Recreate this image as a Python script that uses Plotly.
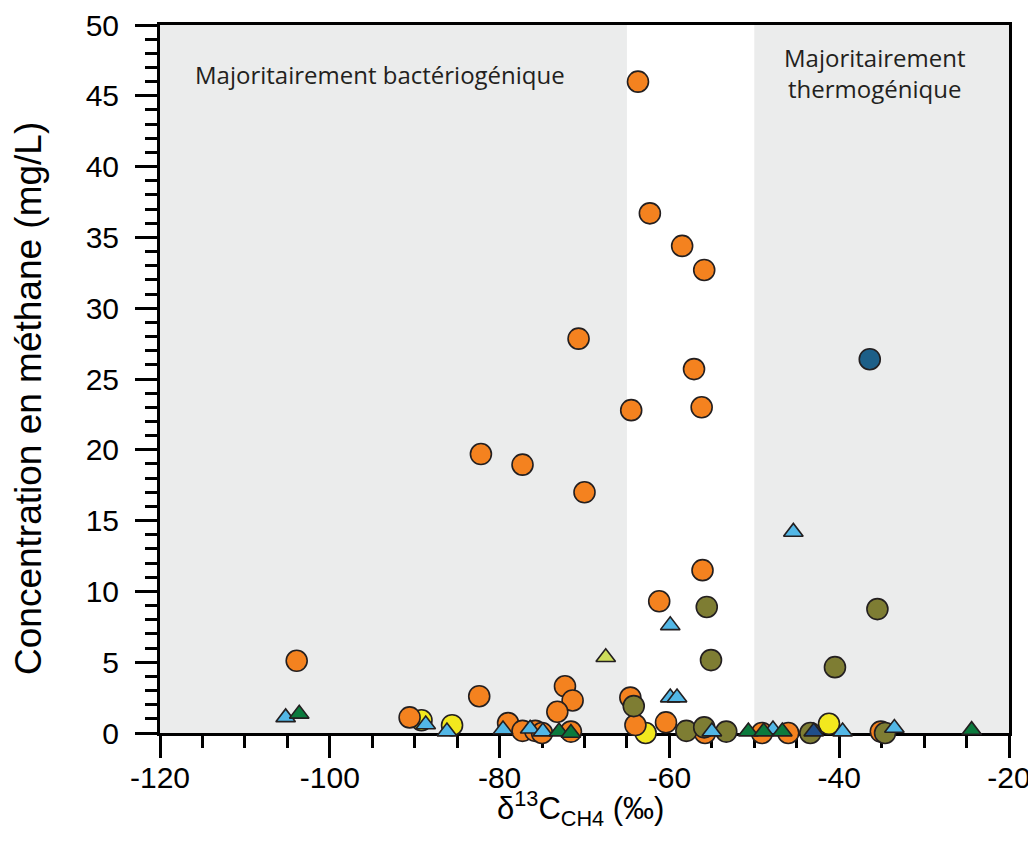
import plotly.graph_objects as go

# ---- data ----
orange_x = [-63.7, -62.3, -58.5, -55.9, -70.7, -57.1, -64.5, -56.2, -82.2, -77.3, -70.0,
            -56.1, -61.2, -103.9, -82.4, -72.3, -71.4, -73.2, -64.6, -64.0, -60.4, -90.6,
            -79.0, -77.3, -75.8, -75.0, -71.6, -55.8, -49.1, -46.0, -35.1]
orange_y = [46.0, 36.7, 34.4, 32.7, 27.85, 25.7, 22.8, 23.0, 19.7, 18.95, 17.0,
            11.5, 9.3, 5.1, 2.6, 3.3, 2.3, 1.5, 2.5, 0.56, 0.75, 1.1,
            0.7, 0.15, 0.15, 0.0, 0.1, 0.0, 0.0, 0.0, 0.1]

olive_x = [-55.6, -35.5, -55.1, -40.5, -64.2, -58.0, -55.9, -53.3, -43.4, -34.6]
olive_y = [8.9, 8.75, 5.15, 4.65, 1.9, 0.15, 0.4, 0.1, 0.0, 0.0]

yellow_x = [-89.2, -85.6, -62.8, -41.2]
yellow_y = [0.9, 0.55, 0.0, 0.65]

darkblue_x = [-36.4]
darkblue_y = [26.4]

yellowgreen_x = [-67.5]
yellowgreen_y = [5.35]

lightblue_x = [-45.4, -59.9, -59.9, -59.1, -105.2, -88.7, -86.2, -79.6, -76.4, -74.9,
               -55.0, -47.8, -39.6, -33.5]
lightblue_y = [14.2, 7.6, 2.5, 2.5, 1.1, 0.6, 0.1, 0.25, 0.3, 0.1,
               0.1, 0.25, 0.1, 0.35]

green_x = [-103.6, -73.0, -71.6, -50.7, -48.9, -46.7, -24.4]
green_y = [1.35, 0.1, 0.0, 0.1, 0.1, 0.1, 0.2]

navy_x = [-43.0]
navy_y = [0.1]

bacterial_zone = [-120, -65]
thermogenic_zone = [-50, -20]

x_range = [-120, -20]
y_range = [0, 50]
x_tickvals = [-120, -100, -80, -60, -40, -20]
x_ticktext = ["-120", "-100", "-80", "-60", "-40", "-20"]

# ---- figure ----
OUT = "#231F20"
CIRCLE = 21
TRI = 17

def circ(x, y, color):
    return go.Scatter(x=x, y=y, mode="markers", cliponaxis=False, showlegend=False,
                      marker=dict(symbol="circle", size=CIRCLE, color=color,
                                  line=dict(color=OUT, width=1.6)))

def tri(x, y, color):
    return go.Scatter(x=x, y=y, mode="markers", cliponaxis=False, showlegend=False,
                      marker=dict(symbol="triangle-up", size=TRI, color=color,
                                  line=dict(color=OUT, width=1.6)))

fig = go.Figure()
fig.add_trace(circ(yellow_x, yellow_y, "#F2E81E"))
fig.add_trace(circ(orange_x, orange_y, "#F4821F"))
fig.add_trace(circ(olive_x, olive_y, "#7E7D33"))
fig.add_trace(circ(darkblue_x, darkblue_y, "#1D5F88"))
fig.add_trace(tri(yellowgreen_x, yellowgreen_y, "#CEDD5B"))
fig.add_trace(tri(lightblue_x, lightblue_y, "#52B7E6"))
fig.add_trace(tri(green_x, green_y, "#0B7A3D"))
fig.add_trace(tri(navy_x, navy_y, "#1F4E8A"))

for z in (bacterial_zone, thermogenic_zone):
    fig.add_shape(type="rect", xref="x", yref="y", x0=z[0], x1=z[1], y0=y_range[0], y1=y_range[1],
                  fillcolor="#EBECEC", line=dict(width=0), layer="below")

FONT = "Liberation Sans, Arial, sans-serif"
axis_common = dict(showline=True, linecolor="black", linewidth=3, mirror=True,
                   ticks="outside", ticklen=22, tickwidth=2.5, tickcolor="black",
                   showgrid=False, zeroline=False, layer="below traces", automargin=False,
                   tickfont=dict(family=FONT, size=30, color="black"))

fig.update_xaxes(range=x_range, tickmode="array", tickvals=x_tickvals, ticktext=x_ticktext,
                 minor=dict(tickmode="linear", tick0=-120, dtick=5, ticklen=12, tickwidth=2.5,
                            ticks="outside", tickcolor="black"),
                 ticklabelstandoff=-6, **axis_common)
fig.update_yaxes(range=y_range, dtick=5, tick0=0,
                 minor=dict(dtick=1, ticklen=12, tickwidth=2.5, ticks="outside", tickcolor="black"),
                 ticklabelstandoff=10, **axis_common)

fig.add_annotation(xref="paper", yref="paper", x=(28 - 160) / 849, y=(733 - 399) / 708,
                   text="Concentration en méthane (mg/L)", textangle=-90, showarrow=False,
                   xanchor="center", yanchor="middle",
                   font=dict(family=FONT, size=37, color="black"))
fig.add_annotation(xref="paper", yref="paper", x=(580 - 160) / 849, y=(733 - 808) / 708,
                   text="δ<sup>13</sup>C<sub>CH4</sub> (‰)", showarrow=False,
                   xanchor="center", yanchor="middle",
                   font=dict(family=FONT, size=31, color="black"))
fig.add_annotation(xref="paper", yref="paper", x=(380 - 160) / 849, y=(733 - 75) / 708,
                   text="Majoritairement bactériogénique", showarrow=False,
                   xanchor="center", yanchor="middle",
                   font=dict(family="Open Sans", size=24, color="#231F20"))
fig.add_annotation(xref="paper", yref="paper", x=(875 - 160) / 849, y=(733 - 73) / 708,
                   text="Majoritairement<br>thermogénique", showarrow=False,
                   xanchor="center", yanchor="middle",
                   font=dict(family="Open Sans", size=24, color="#231F20"))

# page body has an 8px margin, so the figure is 8px smaller than the window
fig.update_layout(width=1028, height=844, paper_bgcolor="white", plot_bgcolor="white",
                  margin=dict(l=152, r=27, t=17, b=119), showlegend=False)

fig.write_html("out.html")
